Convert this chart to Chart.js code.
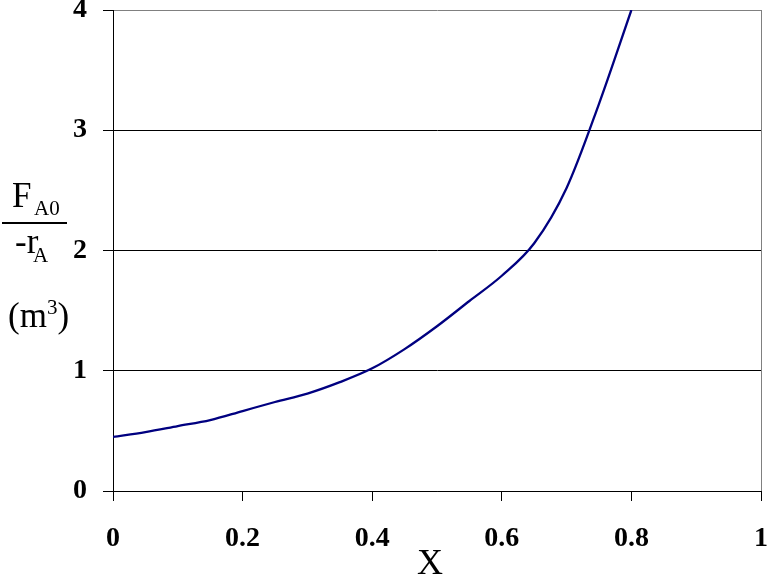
<!DOCTYPE html>
<html>
<head>
<meta charset="utf-8">
<script src="https://cdn.jsdelivr.net/npm/chart.js@4.4.1/dist/chart.umd.min.js"></script>
<style>
  html, body { margin: 0; padding: 0; background: #fff; }
  #wrap { width: 772px; height: 581px; position: relative; }
</style>
</head>
<body>
<div id="wrap"><canvas id="myChart" width="772" height="581"></canvas></div>
<script>
// conversion X and FA0/-rA (m3)
const xValues = [0, 0.05, 0.1, 0.15, 0.2, 0.25, 0.3, 0.35, 0.4, 0.45, 0.5, 0.55, 0.6, 0.65, 0.7, 0.75, 0.8];
const levValues = [0.45, 0.49, 0.54, 0.59, 0.665, 0.74, 0.81, 0.905, 1.02, 1.18, 1.37, 1.58, 1.79, 2.06, 2.52, 3.22, 4.0];
const xTicks = [0, 0.2, 0.4, 0.6, 0.8, 1];
const yTicks = [0, 1, 2, 3, 4];

const serif = "'Liberation Serif', 'Times New Roman', serif";

// y axis label drawn as a fraction, plus the X title
const axisText = {
  id: "axisText",
  afterDraw(chart) {
    const c = chart.ctx;
    c.save();
    c.fillStyle = "#000";
    c.textBaseline = "alphabetic";
    c.textAlign = "left";
    const big = "35px " + serif, small = "21px " + serif;
    c.font = big;
    c.fillText("F", 12, 207);
    c.font = small;
    c.fillText("A0", 34, 215);
    c.fillRect(2, 222, 65, 2);
    c.font = big;
    c.fillText("-r", 15, 253);
    c.font = small;
    c.fillText("A", 33, 262);
    // (m3) with superscript
    let x = 8;
    c.font = big;
    c.fillText("(m", x, 327);
    x += c.measureText("(m").width;
    c.font = small;
    c.fillText("3", x, 314);
    x += c.measureText("3").width;
    c.font = big;
    c.fillText(")", x, 327);
    c.textAlign = "center";
    c.font = "36px " + serif;
    c.fillText("X", 430, 574);
    c.restore();
  }
};

new Chart("myChart", {
  type: "line",
  data: {
    labels: xValues,
    datasets: [{
      data: xValues.map((x, i) => ({ x: x, y: levValues[i] })),
      borderColor: "#000080",
      borderWidth: 2.3,
      pointRadius: 0,
      cubicInterpolationMode: "monotone",
      fill: false
    }]
  },
  options: {
    responsive: false,
    animation: false,
    layout: { padding: { left: 0, top: 10, right: 11, bottom: 0 } },
    plugins: { legend: { display: false }, tooltip: { enabled: false } },
    scales: {
      x: {
        type: "linear",
        min: 0,
        max: 1,
        afterBuildTicks: s => { s.ticks = xTicks.map(v => ({ value: v })); },
        afterFit: s => { s.height = 90; s.paddingLeft = 0; s.paddingRight = 0; },
        border: { color: "#000", width: 1 },
        grid: {
          color: ctx => ctx.tick && ctx.tick.value === 1 ? "#808080" : "rgba(0,0,0,0)",
          tickColor: "#000",
          tickLength: 10
        },
        ticks: {
          color: "#000",
          padding: 21,
          maxRotation: 0,
          font: { family: serif, size: 28, weight: "bold" },
          callback: v => String(v)
        }
      },
      y: {
        min: 0,
        max: 4,
        afterBuildTicks: s => { s.ticks = yTicks.map(v => ({ value: v })); },
        afterFit: s => { s.width = 113; s.paddingTop = 0; s.paddingBottom = 0; },
        border: { color: "#000", width: 1 },
        grid: {
          color: ctx => ctx.tick && ctx.tick.value === 4 ? "#808080" : "#000",
          tickColor: "#000",
          tickLength: 10
        },
        ticks: {
          color: "#000",
          padding: 16,
          font: { family: serif, size: 28, weight: "bold" }
        }
      }
    }
  },
  plugins: [axisText]
});
</script>
</body>
</html>
